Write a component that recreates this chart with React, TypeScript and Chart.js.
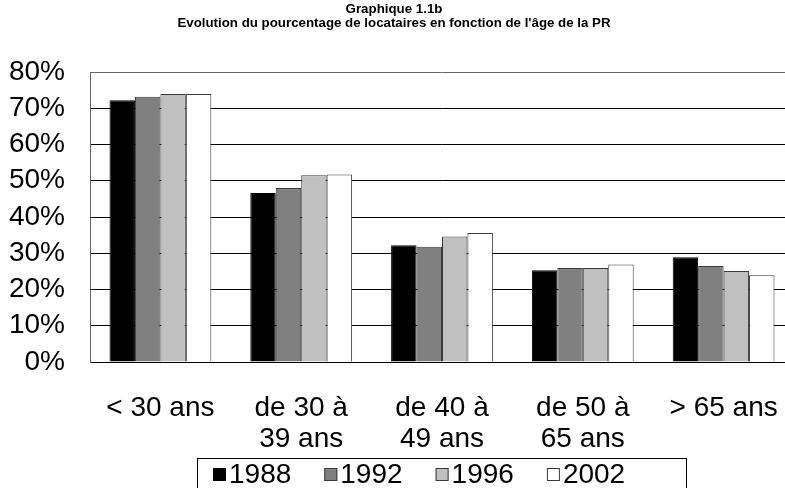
import React, { useEffect, useRef } from "react";
import { Chart, registerables } from "chart.js";

Chart.register(...registerables);

const TITLE_LINES = [
  "Graphique 1.1b",
  "Evolution du pourcentage de locataires en fonction de l'âge de la PR",
];
const CATEGORIES: string[][] = [
  ["< 30 ans"],
  ["de 30 à", "39 ans"],
  ["de 40 à", "49 ans"],
  ["de 50 à", "65 ans"],
  ["> 65 ans"],
];
const SERIES_LABELS = ["1988", "1992", "1996", "2002"];
const VALUES_1988 = [72.2, 46.6, 32.2, 25.3, 28.9];
const VALUES_1992 = [73.2, 48.0, 31.8, 25.9, 26.5];
const VALUES_1996 = [73.9, 51.5, 34.6, 25.9, 25.1];
const VALUES_2002 = [73.9, 51.7, 35.6, 26.9, 23.9];
const FILL_COLORS = ["#000000", "#808080", "#c0c0c0", "#ffffff"];
const BORDER_COLORS = ["#000000", "#3a3a3a", "#3a3a3a", "#3a3a3a"];

const FONT = "Arial, 'Liberation Sans', sans-serif";
const CANVAS_W = 800;

const titleAndLegendPlugin = {
  id: "titleAndLegend",
  afterDraw(chart: any) {
    const ctx = chart.ctx;
    ctx.save();
    // title
    ctx.fillStyle = "#000";
    ctx.font = `bold 13.3px ${FONT}`;
    ctx.textAlign = "center";
    ctx.textBaseline = "middle";
    TITLE_LINES.forEach((line, i) => {
      ctx.fillText(line, 394, 9.5 + i * 13.5);
    });
    // legend
    const boxLeft = 197;
    const boxTop = 458;
    const boxW = 489;
    const boxH = 45;
    ctx.strokeStyle = "#000";
    ctx.lineWidth = 1;
    ctx.strokeRect(boxLeft + 0.5, boxTop + 0.5, boxW, boxH);
    const pitch = 111.3;
    ctx.font = `28px ${FONT}`;
    ctx.textAlign = "left";
    chart.data.datasets.forEach((ds: any, i: number) => {
      const x = 213 + i * pitch;
      const y = 468;
      ctx.fillStyle = ds.backgroundColor;
      ctx.fillRect(x, y, 13, 13);
      ctx.strokeStyle = ds.borderColor;
      ctx.strokeRect(x + 0.5, y + 0.5, 12, 12);
      ctx.fillStyle = "#000";
      ctx.fillText(ds.label, x + 16, y + 7);
    });
    ctx.restore();
  },
};

export default function App() {
  const ref = useRef<HTMLCanvasElement | null>(null);
  useEffect(() => {
    if (!ref.current) return;
    const seriesValues = [VALUES_1988, VALUES_1992, VALUES_1996, VALUES_2002];
    const chart = new Chart(ref.current, {
      type: "bar",
      data: {
        labels: CATEGORIES,
        datasets: SERIES_LABELS.map((label, i) => ({
          label,
          data: seriesValues[i],
          backgroundColor: FILL_COLORS[i],
          borderColor: BORDER_COLORS[i],
          borderWidth: 1,
          categoryPercentage: 0.723,
          barPercentage: 1.0,
        })),
      },
      options: {
        responsive: false,
        animation: false,
        devicePixelRatio: 1,
        layout: { padding: { left: 0, right: 6, top: 72, bottom: 31 } },
        plugins: {
          legend: { display: false },
          tooltip: { enabled: false },
          title: { display: false },
        },
        scales: {
          x: {
            grid: { display: false, drawTicks: false },
            border: { display: true, color: "#000", width: 1 },
            ticks: {
              color: "#000",
              font: { family: FONT, size: 28, lineHeight: 1.1 },
              padding: 0,
              maxRotation: 0,
              autoSkip: false,
              callback: (_v: any, i: number) => ["", ...CATEGORIES[i]],
            },
            afterFit: (s: any) => {
              s.height = 95;
            },
          },
          y: {
            min: 0,
            max: 80,
            ticks: {
              stepSize: 10,
              autoSkip: false,
              color: "#000",
              font: { family: FONT, size: 28 },
              padding: 25,
              callback: (v: any) => `${v}%`,
            },
            grid: {
              drawTicks: false,
              lineWidth: 1,
              color: (c: any) => (c.tick && c.tick.value === 80 ? "#666" : "#000"),
            },
            border: { display: true, color: "#666", width: 1 },
            afterFit: (s: any) => {
              s.width = 90;
            },
          },
        },
      },
      plugins: [titleAndLegendPlugin],
    });
    return () => chart.destroy();
  }, []);
  return (
    <div
      style={{
        position: "fixed",
        left: 0,
        top: 0,
        width: 785,
        height: 488,
        overflow: "hidden",
        background: "#fff",
      }}
    >
      <canvas
        ref={ref}
        width={CANVAS_W}
        height={488}
        style={{ width: CANVAS_W, height: 488, display: "block" }}
      />
    </div>
  );
}
